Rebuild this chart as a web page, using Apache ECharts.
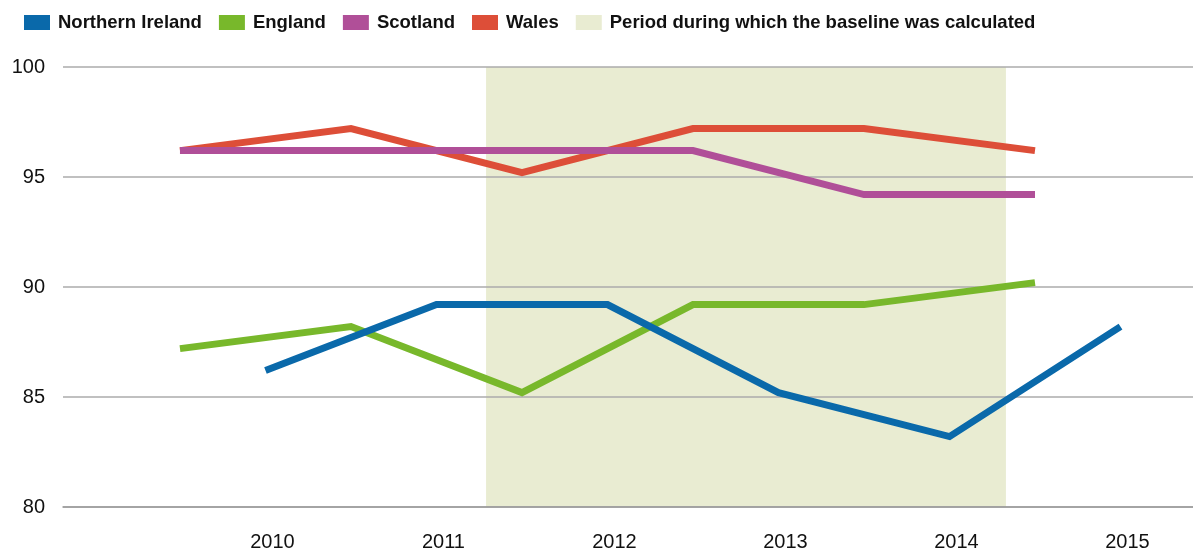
<!DOCTYPE html>
<html>
<head>
<meta charset="utf-8">
<script src="https://cdn.jsdelivr.net/npm/echarts@6/dist/echarts.min.js"></script>
<style>
html,body{margin:0;padding:0;background:#fff;}
#chart{width:1193px;height:554px;}
</style>
</head>
<body>
<div id="chart"></div>
<script>
// Data
const halfYears = [2009.5, 2010.5, 2011.5, 2012.5, 2013.5, 2014.5];
const niYears = [2010, 2011, 2012, 2013, 2014, 2015];
const northernIreland = [86.2, 89.2, 89.2, 85.2, 83.2, 88.2];
const england = [87.2, 88.2, 85.2, 89.2, 89.2, 90.2];
const scotland = [96.2, 96.2, 96.2, 96.2, 94.2, 94.2];
const wales = [96.2, 97.2, 95.2, 97.2, 97.2, 96.2];
const baselinePeriod = [2011.29, 2014.33];
const xTickLabels = [2010, 2011, 2012, 2013, 2014, 2015];
const yTicks = [80, 85, 90, 95, 100];
const bandName = 'Period during which the baseline was calculated';

const pairs = (xs, ys) => xs.map((x, i) => [x, ys[i]]);

const font = 'Liberation Sans, Arial, Helvetica, sans-serif';
const colors = {
  ni: '#0a69aa',
  en: '#78b82b',
  sc: '#b04f98',
  wa: '#dd4e38',
  band: '#e9ecd2'
};

function lineSeries(name, data, color) {
  return {
    name: name,
    type: 'line',
    data: data,
    symbol: 'none',
    showSymbol: false,
    z: 3,
    itemStyle: { color: color },
    lineStyle: { color: color, width: 7, cap: 'butt', join: 'miter' },
    emphasis: { disabled: true },
    animation: false
  };
}

const chart = echarts.init(document.getElementById('chart'), null, { renderer: 'canvas' });
chart.setOption({
  animation: false,
  backgroundColor: '#fff',
  textStyle: { fontFamily: font },
  legend: {
    left: 24,
    top: 13,
    padding: 0,
    itemWidth: 26,
    itemHeight: 15,
    itemGap: 17,
    icon: 'rect',
    selectedMode: false,
    data: ['Northern Ireland', 'England', 'Scotland', 'Wales', bandName],
    textStyle: { fontFamily: font, fontSize: 18.5, fontWeight: 'bold', color: '#111', padding: [0, 0, 0, 3] }
  },
  grid: { left: 63, right: 0, top: 67, bottom: 47, containLabel: false, outerBoundsMode: 'none' },
  xAxis: {
    type: 'value',
    min: 2008.816,
    max: 2015.424,
    axisLine: { show: true, lineStyle: { color: '#9a9a9a', width: 1.5 } },
    axisTick: { show: false },
    splitLine: { show: false },
    axisLabel: {
      customValues: xTickLabels,
      fontSize: 20,
      color: '#111',
      fontFamily: font,
      margin: 25,
      padding: [0, 0, 0, 14],
      showMinLabel: true,
      showMaxLabel: true,
      formatter: v => String(Math.round(v))
    },
    z: 2
  },
  yAxis: {
    type: 'value',
    min: yTicks[0],
    max: yTicks[yTicks.length - 1],
    interval: 5,
    axisLine: { show: false },
    axisTick: { show: false },
    splitLine: { show: true, lineStyle: { color: '#ababab', width: 1.5 } },
    axisLabel: { fontSize: 20, color: '#111', fontFamily: font, margin: 18 },
    z: 2
  },
  series: [
    {
      name: bandName,
      type: 'line',
      data: [],
      symbol: 'none',
      z: 1,
      itemStyle: { color: colors.band },
      lineStyle: { color: colors.band, width: 0 },
      markArea: {
        z: 1,
        silent: true,
        itemStyle: { color: colors.band },
        data: [[{ xAxis: baselinePeriod[0] }, { xAxis: baselinePeriod[1] }]]
      },
      animation: false
    },
    lineSeries('Wales', pairs(halfYears, wales), colors.wa),
    lineSeries('Scotland', pairs(halfYears, scotland), colors.sc),
    lineSeries('England', pairs(halfYears, england), colors.en),
    lineSeries('Northern Ireland', pairs(niYears, northernIreland), colors.ni)
  ]
});
</script>
</body>
</html>
